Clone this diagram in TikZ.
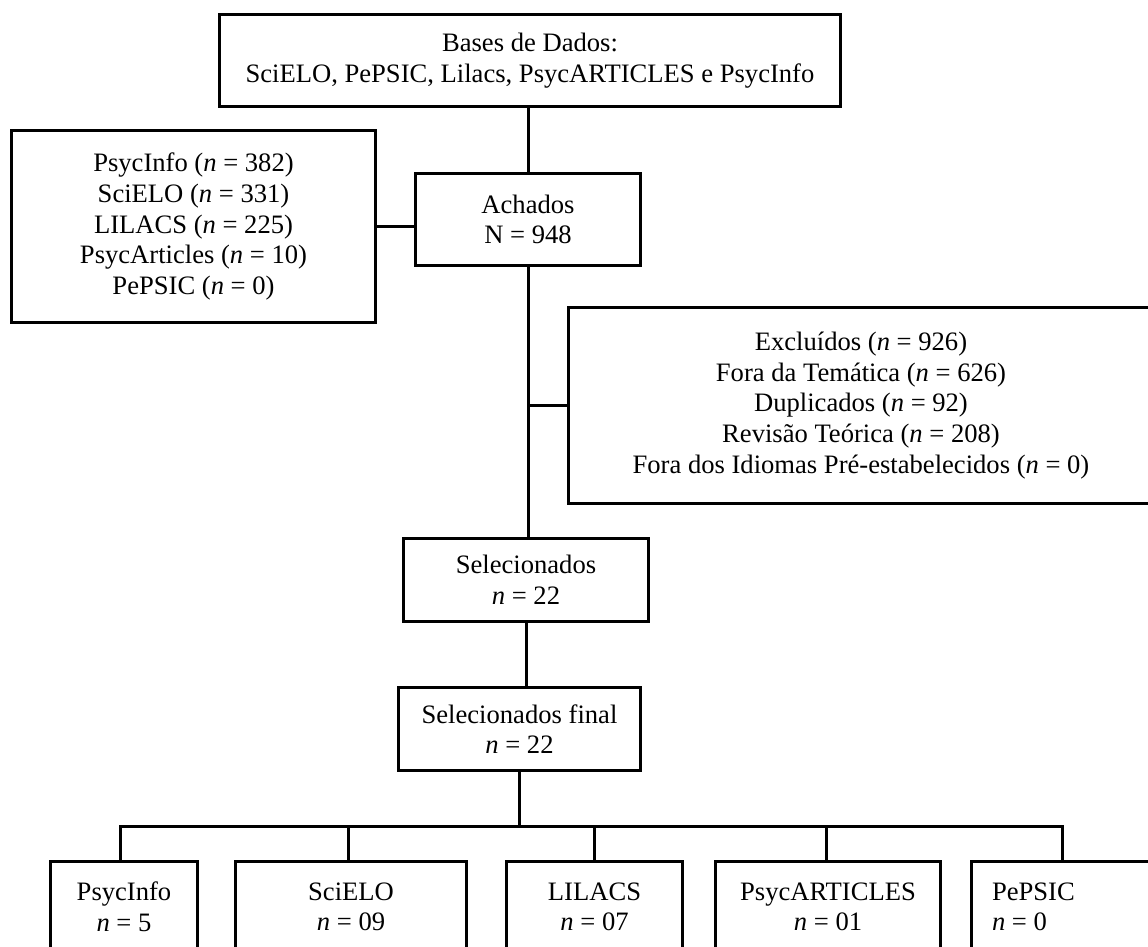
\documentclass[tikz,border=0pt]{standalone}
\usepackage{fontspec}
\setmainfont{Liberation Serif}
\usepackage{tikz}
\tikzset{
  flowbox/.style={draw=black,line width=1.5pt,align=center,inner sep=0pt,font=\fontsize{13.3}{15.3}\selectfont},
  flowline/.style={draw=black,line width=1.5pt}
}
\begin{document}
\begin{tikzpicture}[x=0.5pt,y=-0.5pt]
  \useasboundingbox (0,0) rectangle (1148,947);
  \clip (0,0) rectangle (1148,947);

  % --- Main column ---
  \node[
    flowbox,
    minimum width=310.5pt,
    minimum height=46pt
  ] (base) at (530,60.5) {Bases de Dados:\\SciELO, PePSIC, Lilacs, PsycARTICLES e PsycInfo};

  \node[
    flowbox,
    minimum width=112.5pt,
    minimum height=46pt
  ] (achados) at (528,219.5) {Achados\\N = 948};

  \node[
    flowbox,
    minimum width=182pt,
    minimum height=96pt
  ] (fontes) at (193.5,226.5) {PsycInfo (\textit{n} = 382)\\SciELO (\textit{n} = 331)\\LILACS (\textit{n} = 225)\\PsycArticles (\textit{n} = 10)\\PePSIC (\textit{n} = 0)};

  \node[
    flowbox,
    minimum width=292.5pt,
    minimum height=98pt
  ] (excl) at (861,405.5) {Excluídos (\textit{n} = 926)\\Fora da Temática (\textit{n} = 626)\\Duplicados (\textit{n} = 92)\\Revisão Teórica (\textit{n} = 208)\\Fora dos Idiomas Pré-estabelecidos (\textit{n} = 0)};

  \node[
    flowbox,
    minimum width=122.5pt,
    minimum height=41.5pt
  ] (sel) at (526,580) {Selecionados\\\textit{n} = 22};

  \node[
    flowbox,
    minimum width=121pt,
    minimum height=41.5pt
  ] (selfin) at (519.5,729) {Selecionados final\\\textit{n} = 22};

  % --- Bases after selection ---
  \node[flowbox,minimum width=73.5pt,minimum height=46pt] (psycinfo) at (124,907) {PsycInfo\\\textit{n} = 5};
  \node[flowbox,minimum width=115.5pt,minimum height=46pt] (scielo) at (351,907) {SciELO\\\textit{n} = 09};
  \node[flowbox,minimum width=88pt,minimum height=46pt] (lilacs) at (594.5,907) {LILACS\\\textit{n} = 07};
  \node[flowbox,minimum width=112.5pt,minimum height=46pt] (psycart) at (828,907) {PsycARTICLES\\\textit{n} = 01};
  \node[
    flowbox,
    align=flush left,
    text width=83pt,
    minimum width=103.5pt,
    minimum height=46pt
  ] (pepsic) at (1075,907) {PePSIC\\\textit{n} = 0};

  \coordinate (bus) at (519.5,826);

  % --- Connectors ---
  \draw[flowline] (achados.north) -- (achados.north |- base.south);
  \draw[flowline] (fontes.east) -- (fontes.east -| achados.west);
  \draw[flowline] (achados.south) -- (achados.south |- sel.north);
  \draw[flowline] (excl.west) -- (excl.west -| achados.south);
  \draw[flowline] (sel.south) -- (sel.south |- selfin.north);
  \draw[flowline] (selfin.south) -- (bus);

  % --- Distribution bar ---
  \draw[flowline]
    ([xshift=-2pt]psycinfo.north) |- (bus) -| ([xshift=-6.5pt]pepsic.north);
  \draw[flowline] ([xshift=-1.5pt]scielo.north) -- ([xshift=-1.5pt]scielo.north |- bus);
  \draw[flowline] (lilacs.north) -- (lilacs.north |- bus);
  \draw[flowline] ([xshift=-1pt]psycart.north) -- ([xshift=-1pt]psycart.north |- bus);

\end{tikzpicture}
\end{document}
